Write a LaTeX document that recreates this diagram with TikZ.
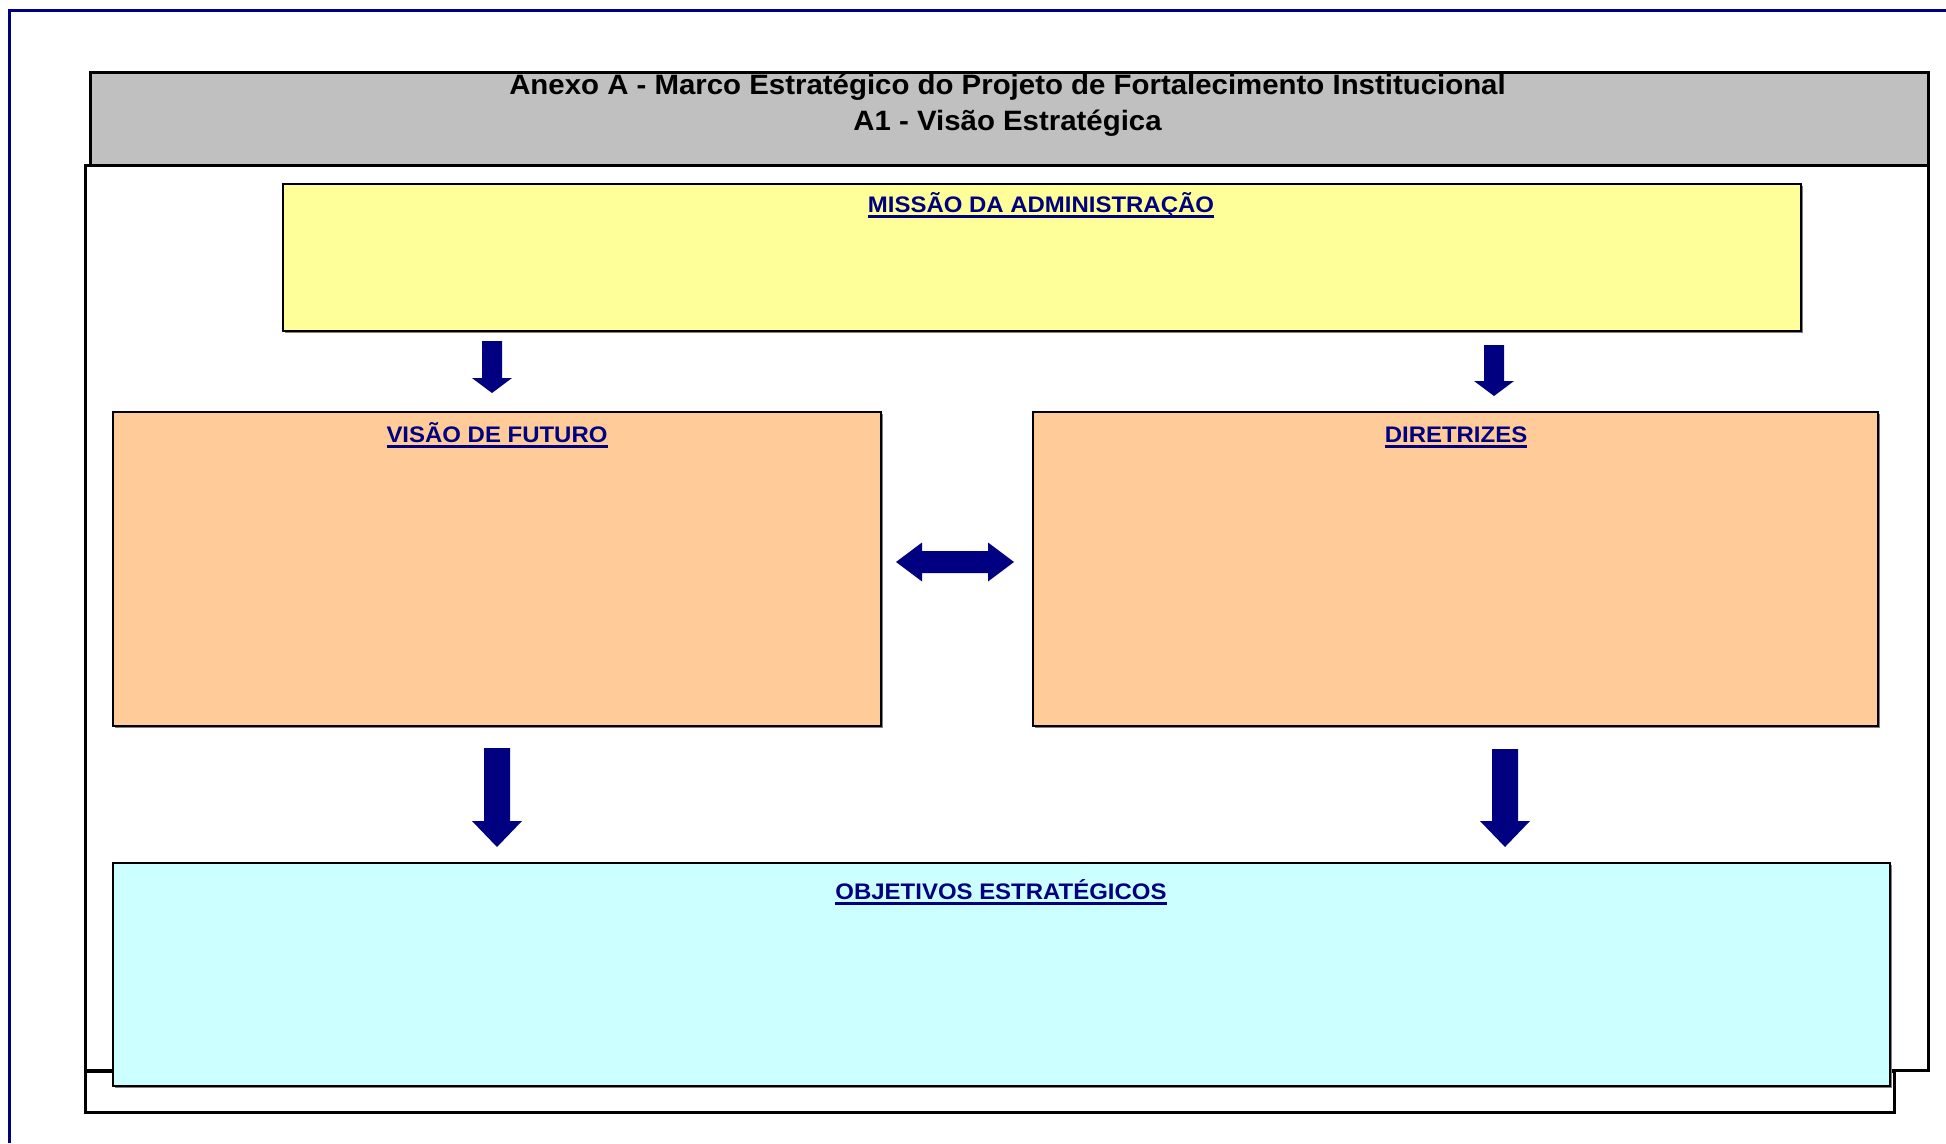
\documentclass[tikz,border=0pt]{standalone}
\usepackage{fontspec}
\setmainfont{Liberation Sans}
\usetikzlibrary{calc}
\definecolor{navyc}{HTML}{000080}
\definecolor{grayc}{HTML}{C0C0C0}
\definecolor{yellowc}{HTML}{FFFF99}
\definecolor{orangec}{HTML}{FFCC99}
\definecolor{cyanc}{HTML}{CCFFFF}
\definecolor{shadowc}{HTML}{808080}
\tikzset{
  frameline/.style={draw=black, line width=3pt},
  panel/.style={draw=black, line width=1.4pt, anchor=north west, inner sep=0pt, outer sep=0pt},
  paneltitle/.style={anchor=base, text=navyc, font=\fontsize{22.5}{26}\selectfont\bfseries, inner sep=0pt, outer sep=0pt, transform shape, xscale=1.065},
  headtitle/.style={anchor=base, text=black, font=\fontsize{28}{32}\selectfont\bfseries, inner sep=0pt, transform shape, xscale=1.05},
  underl/.style={draw=navyc, line width=2.2pt},
  arrowc/.style={fill=navyc},
}
\newcommand\blockdown[5]{\fill[arrowc] (#1) ++(-#2,0) -- ++(0,#4) -- ++({#2-#3},0) -- ++(#3,#5) -- ++(#3,-#5) -- ++({#2-#3},0) -- ++(0,-#4) -- cycle;}
\begin{document}
\begin{tikzpicture}[x=1pt,y=-1pt]
\useasboundingbox (0,0) rectangle (1946,1143);
% outer blue frame
\draw[navyc, line width=3pt] (9,1143) -- (9,10.5) -- (1946,10.5);
% back frames
\draw[frameline] (85,1071) rectangle (1894,1112.5);
\draw[frameline, fill=white] (85,165.5) rectangle (1928,1070.5);
% header
\node[frameline, fill=grayc, anchor=north west, inner sep=0pt, minimum width=1837.5pt, minimum height=93pt] (header) at (89,70.5) {};
\node[headtitle] (h1) at (1007.5,94) {Anexo A - Marco Estratégico do Projeto de Fortalecimento Institucional};
\node[headtitle] (h2) at (1007.5,130) {A1 - Visão Estratégica};
% shadows
\fill[shadowc] (285,186) rectangle (1803,333);
\fill[shadowc] (115,414) rectangle (883,728);
\fill[shadowc] (1035,414) rectangle (1880,728);
\fill[shadowc] (115,865) rectangle (1892,1088);
% panels
\node[panel, fill=yellowc, minimum width=1518pt, minimum height=147pt] (mission) at (283,184) {};
\node[panel, fill=orangec, minimum width=768pt, minimum height=314pt] (vision) at (113,412) {};
\node[panel, fill=orangec, minimum width=845pt, minimum height=314pt] (diretrizes) at (1033,412) {};
\node[panel, fill=cyanc, minimum width=1777pt, minimum height=223pt] (objetivos) at (113,863) {};
% titles
\node[paneltitle] (tmission) at (1041,212) {MISSÃO DA ADMINISTRAÇÃO};
\node[paneltitle] (tvision) at (497,442) {VISÃO DE FUTURO};
\node[paneltitle] (tdiretrizes) at (1456,442) {DIRETRIZES};
\node[paneltitle] (tobjetivos) at (1001,899) {OBJETIVOS ESTRATÉGICOS};
\foreach \t in {tmission,tvision,tdiretrizes,tobjetivos}
  \draw[underl] ([yshift=-4.5pt]\t.base west) -- ([yshift=-4.5pt]\t.base east);
% arrows
\coordinate (a1) at (492,341);
\coordinate (a2) at (1494,345);
\coordinate (a3) at (497,748);
\coordinate (a4) at (1505,749);
\blockdown{a1}{10}{20}{37}{15}
\blockdown{a2}{10}{20}{36}{15}
\blockdown{a3}{13}{25}{73}{26}
\blockdown{a4}{13}{25}{72}{26}
\coordinate (dl) at (896,562);
\coordinate (dr) at (1014,562);
\fill[arrowc] (dl) -- ++(26,-19.5) -- ++(0,8.5) -- ($(dr)+(-26,-11)$) -- ++(0,-8.5) -- (dr) -- ++(-26,19.5) -- ++(0,-8.5) -- ($(dl)+(26,11)$) -- ++(0,8.5) -- cycle;
\end{tikzpicture}
\end{document}
